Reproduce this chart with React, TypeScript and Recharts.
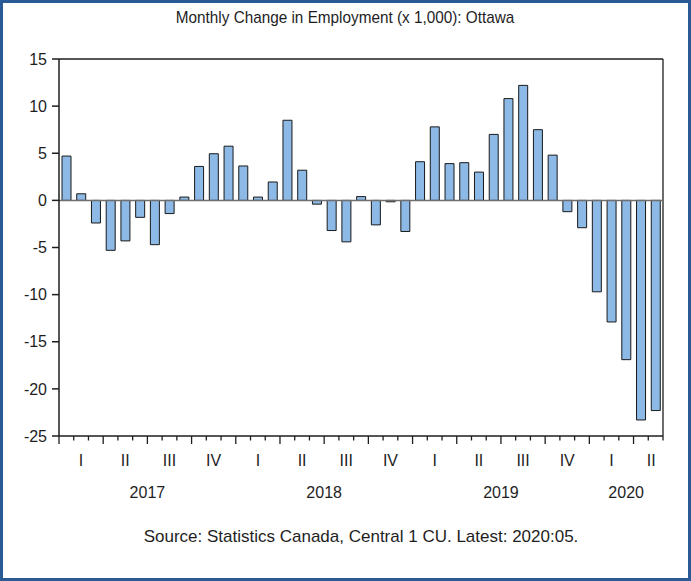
import React from 'react';
import { BarChart, Bar, XAxis, YAxis, ReferenceLine } from 'recharts';

const months = [
  '2017-01','2017-02','2017-03','2017-04','2017-05','2017-06','2017-07','2017-08','2017-09','2017-10','2017-11','2017-12',
  '2018-01','2018-02','2018-03','2018-04','2018-05','2018-06','2018-07','2018-08','2018-09','2018-10','2018-11','2018-12',
  '2019-01','2019-02','2019-03','2019-04','2019-05','2019-06','2019-07','2019-08','2019-09','2019-10','2019-11','2019-12',
  '2020-01','2020-02','2020-03','2020-04','2020-05',
];

const changes = [
  4.7, 0.7, -2.4, -5.3, -4.3, -1.8, -4.7, -1.4, 0.35, 3.6, 4.95, 5.75,
  3.65, 0.35, 1.95, 8.5, 3.2, -0.4, -3.2, -4.4, 0.4, -2.6, -0.15, -3.3,
  4.1, 7.8, 3.9, 4.0, 3.0, 7.0, 10.8, 12.2, 7.5, 4.8, -1.2, -2.9,
  -9.7, -12.9, -16.9, -23.3, -22.3,
];

const quarterNames = ['I','II','III','IV','I','II','III','IV','I','II','III','IV','I','II'];
const quarterPositions = [1.5, 4.5, 7.5, 10.5, 13.5, 16.5, 19.5, 22.5, 25.5, 28.5, 31.5, 34.5, 37.5, 40.2];
const yearNames = ['2017', '2018', '2019', '2020'];
const yearPositions = [6, 18, 30, 38.5];
const yTicks = [-25, -20, -15, -10, -5, 0, 5, 10, 15];

const data = months.map((m, i) => ({ month: m, t: i + 0.5, value: changes[i] }));
const boundaries = Array.from({ length: months.length + 1 }, (_, i) => i);
const labelTicks = [...quarterPositions, ...yearPositions];

const FONT = '"Liberation Sans", Arial, sans-serif';
const INK = '#1e1e1e';

const BoundaryTick = (props: any) => {
  const { x, y, payload } = props;
  const v = payload.value;
  const long = v % 3 === 0;
  return <line x1={x} x2={x} y1={y} y2={y + (long ? 8 : 4.5)} stroke={INK} strokeWidth={1.3} />;
};

const LabelTick = (props: any) => {
  const { x, y, payload } = props;
  const v = payload.value;
  const qi = quarterPositions.indexOf(v);
  if (qi >= 0) {
    return (
      <text x={x} y={y + 12} textAnchor="middle" dominantBaseline="central" fontSize={16} fontFamily={FONT} fill={INK}>
        {quarterNames[qi]}
      </text>
    );
  }
  const yi = yearPositions.indexOf(v);
  return (
    <text x={x} y={y + 44} textAnchor="middle" dominantBaseline="central" fontSize={16} fontFamily={FONT} fill={INK}>
      {yearNames[yi]}
    </text>
  );
};

export default function App() {
  return (
    <div style={{ position: 'absolute', left: 0, top: 0, width: 691, height: 581, background: '#fff' }}>
      <BarChart
        width={691}
        height={581}
        data={data}
        margin={{ top: 59, right: 28, bottom: 75, left: 0 }}
      >
        <XAxis
          xAxisId="a0"
          type="number"
          dataKey="t"
          domain={[0, 41]}
          ticks={boundaries}
          interval={0}
          tickSize={0}
          tickMargin={0}
          tickLine={false}
          height={12}
          stroke={INK}
          strokeWidth={1.5}
          tick={<BoundaryTick />}
          allowDataOverflow
        />
        <XAxis
          xAxisId="z1"
          type="number"
          dataKey="t"
          domain={[0, 41]}
          ticks={labelTicks}
          interval={0}
          tickSize={0}
          tickMargin={0}
          tickLine={false}
          axisLine={false}
          height={58}
          tick={<LabelTick />}
          allowDataOverflow
        />
        <YAxis
          type="number"
          domain={[-25, 15]}
          ticks={yTicks}
          interval={0}
          width={59}
          tickSize={7}
          tickMargin={5}
          stroke={INK}
          strokeWidth={1.5}
          tick={{ fontSize: 16, fontFamily: FONT, fill: INK }}
          allowDataOverflow
        />
        <ReferenceLine xAxisId="a0" y={15} stroke={INK} strokeWidth={1.3} />
        <ReferenceLine xAxisId="a0" x={41} stroke={INK} strokeWidth={1.3} />
        <Bar
          xAxisId="a0"
          dataKey="value"
          barSize={9}
          fill="#8cb9e5"
          stroke="#1a1a1a"
          strokeWidth={1}
          isAnimationActive={false}
        />
        <ReferenceLine xAxisId="a0" y={0} stroke="#6f6f6f" strokeWidth={1.5} />
      </BarChart>
      <div
        style={{
          position: 'absolute', left: 0, top: 8, width: 691, textAlign: 'center',
          fontFamily: FONT, fontSize: 17, color: INK, lineHeight: '20px',
        }}
      >
        <span style={{ display: 'inline-block', transform: 'scaleX(0.9)' }}>
          Monthly Change in Employment (x 1,000): Ottawa
        </span>
      </div>
      <div
        style={{
          position: 'absolute', left: 59, top: 527, width: 604, textAlign: 'center',
          fontFamily: FONT, fontSize: 17, color: INK, lineHeight: '20px',
        }}
      >
        Source: Statistics Canada, Central 1 CU. Latest: 2020:05.
      </div>
      <div
        style={{
          position: 'absolute', left: 0, top: 0, width: 691, height: 581, boxSizing: 'border-box',
          border: '3px solid #2a5a93', pointerEvents: 'none',
        }}
      />
    </div>
  );
}
